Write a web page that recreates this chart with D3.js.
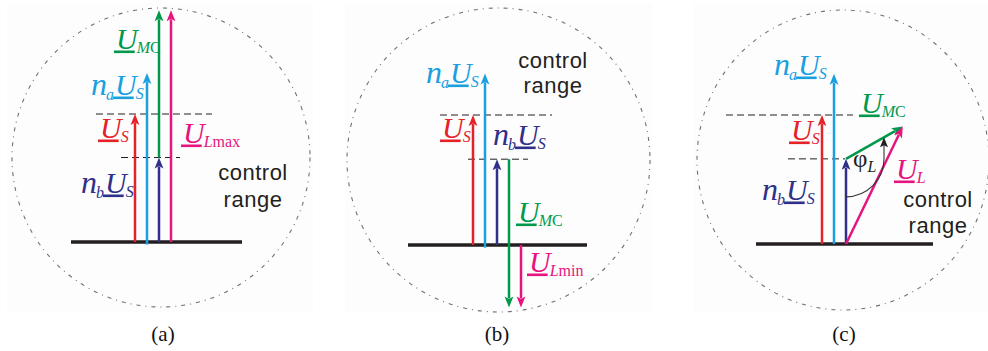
<!DOCTYPE html>
<html>
<head>
<meta charset="utf-8">
<script src="https://cdn.jsdelivr.net/npm/d3@7"></script>
<style>
  html, body { margin: 0; padding: 0; background: #fff; }
  svg { display: block; }
</style>
</head>
<body>
<svg id="fig" width="988" height="351"></svg>
<script>
// Phasor diagrams of the voltage control range, values in per-unit of U_S.
// Each phasor is [re, im]; order follows phasorKeys.
const panelNames = ["(a)", "(b)", "(c)"];
const phasorKeys = ["US", "naUS", "nbUS", "UMC", "UL"];
const startsA = [[0, 0], [0, -0.02], [0, 0], [0, 0.66], [0, 0]];
const endsA   = [[0, 1], [0, 1.32], [0, 0.66], [0, 1.81], [0, 1.81]];
const startsB = [[0, 0], [0, -0.02], [0, 0], [0, 0.66], [0, 0]];
const endsB   = [[0, 1], [0, 1.32], [0, 0.66], [0, -0.48], [0, -0.48]];
const startsC = [[0, 0], [0, 0], [0, 0], [0, 0.66], [0, 0]];
const endsC   = [[0, 1], [0, 1.32], [0, 0.66], [0.44, 0.91], [0.44, 0.91]];
const refLevels = [1, 0.66];                 // U_S and n_b·U_S reference levels
const loadSubs = ["Lmax", "Lmin", "L"];      // load voltage subscript per panel
const rangeText = ["control", "range"];

const colors = {
  US: "#e42228", naUS: "#1a9fe0", nbUS: "#2e3089", UMC: "#00994c", UL: "#e5147f",
  ink: "#231f20", circle: "#707070"
};

// Drawing layout for each panel (pixels)
const layout = [
  { ox: 159, oy: 242, unit: 128, lanes: [-2, -1, 0, 0, 1], base: [-88, 83],
    dash: [[-63, 53], [-38, 21]], circ: [161, 157.5, 149, 149.5], bg: [7, 313],
    title: 163, ctrl: [253, 180, 207],
    lbl: { US: [100, 138], naUS: [91, 95], nbUS: [81, 193], UMC: [116, 49], UL: [183, 143] } },
  { ox: 497, oy: 245, unit: 130, lanes: [-2, -1, 0, 1, 2], base: [-89, 90],
    dash: [[-57, 55], [-29, 31]], circ: [498.5, 160, 151.5, 152], bg: [345, 652],
    title: 497, ctrl: [553, 68, 93],
    lbl: { US: [442, 138], naUS: [426, 83], nbUS: [493, 145], UMC: [518, 222], UL: [529, 272] } },
  { ox: 846, oy: 244, unit: 129, lanes: [-2, -1, 0, 0, 0], base: [-90, 87],
    dash: [[-120, 7], [-58, -1]], circ: [843, 160, 146, 150], bg: [693, 988],
    title: 844, ctrl: [938, 207, 233],
    lbl: { US: [791, 140], naUS: [774, 75], nbUS: [762, 200], UMC: [861, 113], UL: [896, 179] },
    phi: [853, 167] }
];
const laneGap = 12;
const panelData = [[startsA, endsA], [startsB, endsB], [startsC, endsC]];

const svg = d3.select("#fig");
const serif = "'Liberation Serif', 'Times New Roman', serif";
const sans = "'Liberation Sans', Arial, sans-serif";
const mainSize = 30, subSize = 16;

function arrow(g, x0, y0, x1, y1, color, head = 11, hw = 4.4, sw = 2.5) {
  const dx = x1 - x0, dy = y1 - y0, L = Math.hypot(dx, dy);
  const ux = dx / L, uy = dy / L;
  const bx = x1 - ux * head, by = y1 - uy * head;
  g.append("line")
    .attr("x1", x0).attr("y1", y0).attr("x2", bx + ux * 2).attr("y2", by + uy * 2)
    .attr("stroke", color).attr("stroke-width", sw);
  g.append("path")
    .attr("d", `M${x1},${y1}L${bx - uy * hw},${by + ux * hw}L${bx + ux * 2.5},${by + uy * 2.5}L${bx + uy * hw},${by - ux * hw}Z`)
    .attr("fill", color);
}

// Phasor label: optional italic prefix with subscript, underlined U, subscript
function phasorLabel(g, x, y, color, opts) {
  let cx = x;
  if (opts.pre) {
    const t = g.append("text").attr("x", cx).attr("y", y)
      .attr("font-family", serif).attr("font-style", "italic")
      .attr("font-size", mainSize + 2).attr("fill", color).text(opts.pre);
    cx += t.node().getComputedTextLength() - 1;
    const s = g.append("text").attr("x", cx).attr("y", y + 5)
      .attr("font-family", serif).attr("font-style", "italic")
      .attr("font-size", subSize).attr("fill", color).text(opts.preSub);
    cx += s.node().getComputedTextLength() + 1;
  }
  const u = g.append("text").attr("x", cx).attr("y", y)
    .attr("font-family", serif).attr("font-style", "italic")
    .attr("font-size", mainSize).attr("fill", color).text("U");
  const w = u.node().getComputedTextLength();
  g.append("rect").attr("x", cx - 2).attr("y", y + 1.5)
    .attr("width", w - 1).attr("height", 2.6).attr("fill", color);
  cx += w - 1;
  const s = g.append("text").attr("x", cx).attr("y", y + 4)
    .attr("font-family", serif).attr("font-size", subSize).attr("fill", color);
  s.append("tspan").attr("font-style", "italic").text(opts.sub[0]);
  if (opts.sub.length > 1) s.append("tspan").text(opts.sub.slice(1));
}

panelData.forEach(([starts, ends], p) => {
  const L = layout[p];
  const g = svg.append("g");
  const x = d3.scaleLinear().domain([0, 1]).range([L.ox, L.ox + L.unit]);
  const y = d3.scaleLinear().domain([0, 1]).range([L.oy, L.oy - L.unit]);
  const px = (v, i) => x(v[0]) + L.lanes[i] * laneGap;

  // panel backdrop and dash-dot control-range circle
  g.append("rect").attr("x", L.bg[0]).attr("y", 3)
    .attr("width", L.bg[1] - L.bg[0]).attr("height", 310).attr("fill", "#fdfdfd");
  g.append("ellipse")
    .attr("cx", L.circ[0]).attr("cy", L.circ[1]).attr("rx", L.circ[2]).attr("ry", L.circ[3])
    .attr("fill", "none").attr("stroke", colors.circle).attr("stroke-width", 1.1)
    .attr("stroke-dasharray", "4,5,1,5");

  // reference levels
  refLevels.forEach((lv, k) => {
    g.append("line")
      .attr("x1", L.ox + L.dash[k][0]).attr("x2", L.ox + L.dash[k][1])
      .attr("y1", y(lv)).attr("y2", y(lv))
      .attr("stroke", colors.ink).attr("stroke-width", 1).attr("stroke-dasharray", "7,4");
  });

  // ground line
  g.append("line")
    .attr("x1", L.ox + L.base[0]).attr("x2", L.ox + L.base[1])
    .attr("y1", y(0)).attr("y2", y(0))
    .attr("stroke", colors.ink).attr("stroke-width", 3.5);

  // phasors
  phasorKeys.forEach((k, i) => {
    arrow(g, px(starts[i], i), y(starts[i][1]), px(ends[i], i), y(ends[i][1]), colors[k]);
  });

  // load angle arc (panel c)
  if (L.phi) {
    const iN = phasorKeys.indexOf("nbUS"), iM = phasorKeys.indexOf("UMC");
    const c = ends[iN];
    const rD = 38 / L.unit;
    const slope = (ends[iM][1] - starts[iM][1]) / (ends[iM][0] - starts[iM][0]);
    const cx = px(c, iN), cy = y(c[1]);
    const r = x(rD) - x(0);
    const tipY = y(starts[iM][1] + slope * rD);
    const path = d3.path();
    path.moveTo(cx, cy + r);
    path.arc(cx, cy, r, Math.PI / 2, 0, true);
    path.lineTo(cx + r, tipY + 7);
    g.append("path").attr("d", path.toString())
      .attr("fill", "none").attr("stroke", "#333").attr("stroke-width", 1.1);
    g.append("path")
      .attr("d", `M${cx + r},${tipY}L${cx + r - 4},${tipY + 10}L${cx + r},${tipY + 8}L${cx + r + 4},${tipY + 10}Z`)
      .attr("fill", "#222");
    const t = g.append("text").attr("x", L.phi[0]).attr("y", L.phi[1])
      .attr("font-family", serif).attr("font-size", 25).attr("fill", colors.ink).text("φ");
    const w = t.node().getComputedTextLength();
    g.append("text").attr("x", L.phi[0] + w).attr("y", L.phi[1] + 5)
      .attr("font-family", serif).attr("font-style", "italic")
      .attr("font-size", subSize).attr("fill", colors.ink).text("L");
  }

  // phasor labels
  phasorLabel(g, ...L.lbl.US, colors.US, { sub: "S" });
  phasorLabel(g, ...L.lbl.naUS, colors.naUS, { pre: "n", preSub: "a", sub: "S" });
  phasorLabel(g, ...L.lbl.nbUS, colors.nbUS, { pre: "n", preSub: "b", sub: "S" });
  phasorLabel(g, ...L.lbl.UMC, colors.UMC, { sub: "MC" });
  phasorLabel(g, ...L.lbl.UL, colors.UL, { sub: loadSubs[p] });

  // region caption
  rangeText.forEach((txt, j) => {
    g.append("text").attr("x", L.ctrl[0]).attr("y", L.ctrl[1 + j])
      .attr("text-anchor", "middle").attr("font-family", sans).attr("font-size", 22)
      .attr("letter-spacing", 0.5).attr("fill", colors.ink).text(txt);
  });

  // panel caption
  g.append("text").attr("x", L.title).attr("y", 341)
    .attr("text-anchor", "middle").attr("font-family", serif).attr("font-size", 21)
    .attr("fill", "#111").text(panelNames[p]);
});
</script>
</body>
</html>
